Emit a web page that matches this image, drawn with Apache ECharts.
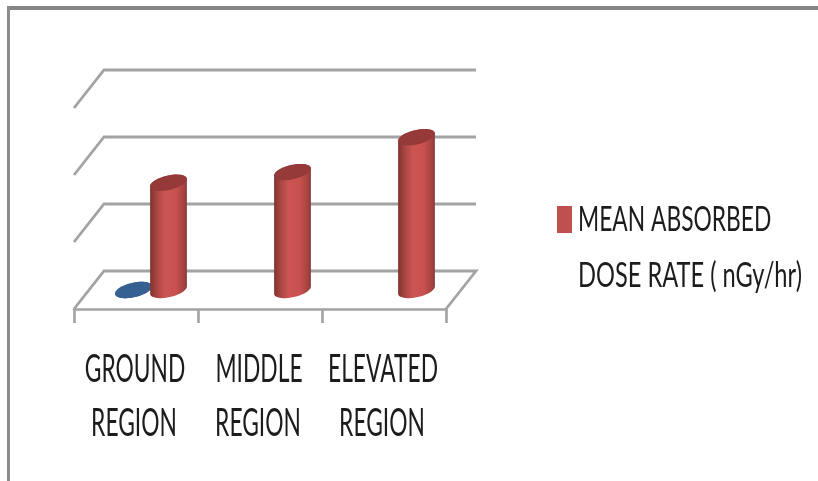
<!DOCTYPE html>
<html><head><meta charset="utf-8">
<style>html,body{margin:0;padding:0;background:#fff}#c{width:818px;height:481px}</style>
<script src="https://cdn.jsdelivr.net/npm/echarts@6/dist/echarts.min.js"></script>
</head><body><div id="c"></div>
<script>
var categories = ['GROUND\nREGION', 'MIDDLE\nREGION', 'ELEVATED\nREGION'];
var meanDose = [80, 88, 114];
var blueSeries = [0, null, null];
var gridValues = [0, 50, 100, 150];
var legendName = 'MEAN ABSORBED\nDOSE RATE ( nGy/hr)';
var FONT = 'Lato,"Open Sans",sans-serif';
var DX = 30, DY = -38, A = 18.8, B = 7.2, TH = -13 * Math.PI / 180, OFF = 17.5;

function pairs(arr) {
  return arr.map(function (v, i) { return [i, v]; }).filter(function (d) { return d[1] !== null; });
}
function ePoint(cx, cy, t) {
  return [cx + A * Math.cos(t) * Math.cos(TH) - B * Math.sin(t) * Math.sin(TH),
          cy + A * Math.cos(t) * Math.sin(TH) + B * Math.sin(t) * Math.cos(TH)];
}
function cylinder(offset, topColor, stops) {
  return function (params, api) {
    var i = api.value(0), v = api.value(1);
    var base = api.coord([i, 0]), top = api.coord([i, v]);
    var cx = base[0] + DX / 2 + offset, by = base[1] + DY / 2, ty = top[1] + DY / 2;
    var t0 = Math.atan2(-B * Math.sin(TH), A * Math.cos(TH)), pts = [], k;
    for (k = 0; k <= 24; k++) pts.push(ePoint(cx, by, t0 + Math.PI * k / 24));
    for (k = 0; k <= 24; k++) pts.push(ePoint(cx, ty, t0 + Math.PI + Math.PI * k / 24));
    return { type: 'group', children: [
      { type: 'polygon', shape: { points: pts }, style: { fill: {
          type: 'linear', x: 0, y: 0, x2: 1, y2: 0, colorStops: stops } } },
      { type: 'ellipse', x: cx, y: ty, rotation: -TH, originX: 0, originY: 0,
        shape: { cx: 0, cy: 0, rx: A, ry: B }, style: { fill: topColor } }
    ] };
  };
}
function stretched(text, x, y, fs, sx, sy, align) {
  return { type: 'text', x: x, y: y, scaleX: sx, scaleY: sy,
    style: { text: text, fontFamily: FONT, fontSize: fs, fill: '#1c1c1c', align: align, verticalAlign: 'middle' } };
}
var legendLines = legendName.split('\n');
var chart = echarts.init(document.getElementById('c'));
chart.setOption({
  animation: false,
  backgroundColor: '#fff',
  graphic: [
    { type: 'rect', shape: { x: 7, y: 6, width: 811, height: 4 }, style: { fill: '#858585' } },
    { type: 'rect', shape: { x: 7, y: 6, width: 3, height: 475 }, style: { fill: '#8c8c8c' } },
    stretched(legendLines[0], 578, 219.5, 24, 0.95, 1.45, 'left'),
    stretched(legendLines[1], 578, 276, 24, 0.985, 1.45, 'left')
  ],
  grid: { left: 74, width: 372, top: 108, height: 201 },
  legend: {
    orient: 'vertical', left: 557, top: 206, selectedMode: false, padding: 0,
    itemWidth: 15, itemHeight: 27, itemGap: 0,
    data: [{ name: legendName, icon: 'rect', itemStyle: { color: '#c0504d' } }],
    formatter: function () { return ' '; }
  },
  xAxis: {
    type: 'category', data: categories,
    axisLine: { show: true, onZero: false, lineStyle: { color: '#a3a3a3', width: 2.6 } },
    axisTick: { show: true, length: 14, lineStyle: { color: '#a3a3a3', width: 2.6 } },
    axisLabel: { show: false }
  },
  yAxis: { type: 'value', min: 0, max: 150, interval: 50, show: false, splitLine: { show: false } },
  series: [
    { type: 'custom', name: 'grid', silent: true, z: 1, data: gridValues.map(function (v) { return [0, v]; }),
      encode: { x: 0, y: 1 },
      renderItem: function (params, api) {
        var v = api.value(1), y = api.coord([0, v])[1];
        var x0 = params.coordSys.x, x1 = x0 + params.coordSys.width;
        var pts = [[x0, y], [x0 + DX, y + DY], [x1 + DX, y + DY]];
        if (v === 0) pts.push([x1, y]);
        return { type: 'polyline', shape: { points: pts }, style: { fill: null, stroke: '#a3a3a3', lineWidth: 2.8 } };
      } },
    { type: 'custom', name: 'Blue', z: 2, data: pairs(blueSeries), encode: { x: 0, y: 1 },
      renderItem: cylinder(-OFF, '#376092', [{ offset: 0, color: '#376092' }, { offset: 1, color: '#376092' }]) },
    { type: 'custom', name: legendName, z: 3, data: pairs(meanDose), encode: { x: 0, y: 1 },
      renderItem: cylinder(OFF, '#953a38', [
        { offset: 0, color: '#7f3331' }, { offset: 0.18, color: '#ab4643' }, { offset: 0.4, color: '#cb5553' },
        { offset: 0.7, color: '#c8514f' }, { offset: 0.9, color: '#a84542' }, { offset: 1, color: '#8c3a38' }]) },
    { type: 'custom', name: 'labels', silent: true, z: 4,
      data: categories.map(function (c, i) { return [i, 0]; }), encode: { x: 0, y: 1 },
      renderItem: function (params, api) {
        var i = api.value(0), p = api.coord([i, 0]), lines = categories[i].split('\n');
        return { type: 'group', children: [
          stretched(lines[0], p[0] - 1, p[1] + 60, 24, 0.95, 1.63, 'center'),
          stretched(lines[1], p[0] - 2, p[1] + 114, 24, 0.95, 1.63, 'center')
        ] };
      } }
  ]
});
</script></body></html>
